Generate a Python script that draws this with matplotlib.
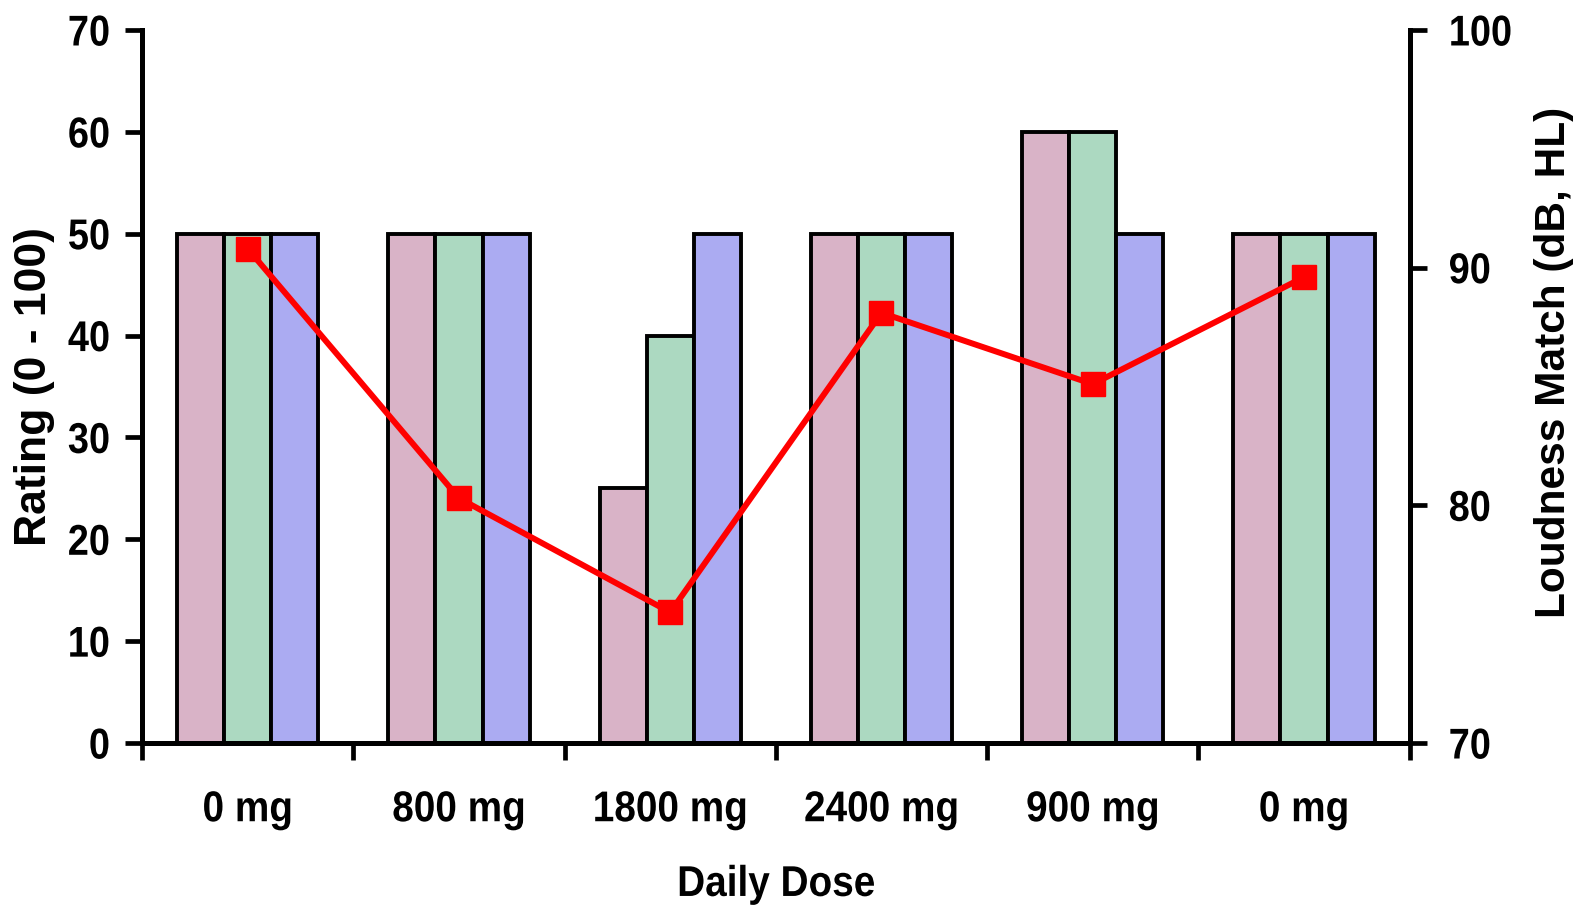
import matplotlib.pyplot as plt
import numpy as np
from matplotlib.patheffects import AbstractPathEffect
from matplotlib.transforms import Affine2D

doses = ["0 mg", "800 mg", "1800 mg", "2400 mg", "900 mg", "0 mg"]
rating_a = [50, 50, 25, 50, 60, 50]
rating_b = [50, 50, 40, 50, 60, 50]
rating_c = [50, 50, 50, 50, 50, 50]
loudness = [90.8, 80.3, 75.5, 88.1, 85.1, 89.6]


class Squeeze(AbstractPathEffect):
    """Compress text horizontally (in display space) about a chosen edge."""

    def __init__(self, sx=0.88, anchor="center"):
        super().__init__()
        self.sx = sx
        self.anchor = anchor

    def draw_path(self, renderer, gc, tpath, affine, rgbFace=None):
        ext = tpath.get_extents(affine)
        px = {"left": ext.x0, "right": ext.x1}.get(self.anchor, (ext.x0 + ext.x1) / 2)
        squeeze = Affine2D().translate(-px, 0).scale(self.sx, 1).translate(px, 0)
        renderer.draw_path(gc, tpath, affine + squeeze, rgbFace)


plt.rcParams["font.family"] = ["Liberation Sans", "DejaVu Sans"]
plt.rcParams["font.weight"] = "bold"
FS = 31

fig = plt.figure(figsize=(15.75, 9.06), dpi=100)
ax = fig.add_axes([0.0902, 0.1799, 0.8048, 0.787])

x = np.arange(len(doses))
width = 0.223
colors = ["#d9b3c7", "#acd9c1", "#ababf2"]
for offset, values, color in zip((-width, 0, width), (rating_a, rating_b, rating_c), colors):
    ax.bar(x + offset, values, width, color=color, edgecolor="black", linewidth=2.8, zorder=2)

ax.set_xlim(-0.5, len(doses) - 0.5)
ax.set_ylim(0, 70)
ax.set_yticks(range(0, 71, 10))
ax.set_xticks(x)
ax.set_xticklabels(doses)
ax.set_xticks(np.arange(-0.5, len(doses)), minor=True)
ax.tick_params(axis="x", which="major", length=0, pad=34, labelsize=FS)
ax.tick_params(axis="x", which="minor", length=12, width=3.4, direction="out")
ax.tick_params(axis="y", length=12, width=3.4, direction="out", labelsize=FS, pad=11)
ax.set_xlabel("Daily Dose", fontsize=FS, fontweight="bold", labelpad=25)
ax.set_ylabel("Rating (0 - 100)", fontsize=32, fontweight="bold", labelpad=5)
for side in ("top", "right"):
    ax.spines[side].set_visible(False)
for side in ("left", "bottom"):
    ax.spines[side].set_linewidth(3.6)

ax2 = ax.twinx()
ax2.plot(x, loudness, color="#ff0000", linewidth=4.3, marker="s", markersize=17, zorder=5)
ax2.set_ylim(70, 100)
ax2.set_yticks([70, 80, 90, 100])
ax2.tick_params(axis="y", length=12, width=3.4, direction="out", labelsize=FS, pad=16)
ax2.set_ylabel("Loudness Match (dB, HL)", fontsize=30.5, fontweight="bold")
ax2.yaxis.set_label_coords(1.0985, 0.534)
for side in ("top", "left", "bottom"):
    ax2.spines[side].set_visible(False)
ax2.spines["right"].set_linewidth(3.6)

for lbl in ax.get_yticklabels():
    lbl.set_path_effects([Squeeze(anchor="right")])
for lbl in ax2.get_yticklabels():
    lbl.set_path_effects([Squeeze(anchor="left")])
for lbl in ax.get_xticklabels() + [ax.xaxis.label]:
    lbl.set_path_effects([Squeeze(sx=0.9)])

fig.savefig("out.png", dpi=100)
